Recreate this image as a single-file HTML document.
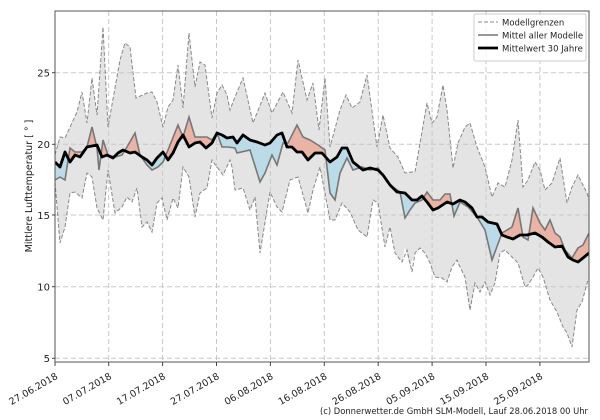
<!DOCTYPE html>
<html><head><meta charset="utf-8"><style>
html,body{margin:0;padding:0;background:#fff;width:600px;height:420px;overflow:hidden}
svg text{font-family:"DejaVu Sans","Liberation Sans",sans-serif;fill:#222}
</style></head><body>
<svg width="600" height="420" viewBox="0 0 600 420" xmlns="http://www.w3.org/2000/svg">
<defs>
<clipPath id="plot"><rect x="55" y="11" width="534" height="351"/></clipPath>
<clipPath id="aboveClim"><polygon points="55,0 55,162 60,167 65,152 70,162 75,155 80,157 87,147 97,145 102,157 107,155 113,158 118,153 123,150 130,153 135,152 142,157 147,160 152,165 157,158 163,152 168,160 173,153 178,142 183,135 189,147 195,143 200,142 206,148 212,143 217,133 222,135 227,138 233,137 237,143 243,135 250,140 257,142 265,145 270,143 277,135 282,133 287,147 292,147 297,152 302,152 308,160 315,153 322,153 330,162 337,157 342,148 347,148 353,162 363,170 370,168 378,170 383,175 390,185 397,192 405,193 412,200 417,200 422,196 427,202 433,210 438,208 447,202 453,204 460,200 465,202 472,208 477,217 482,217 488,222 497,224 502,235 507,237 513,239 520,235 527,235 535,233 542,237 548,242 555,247 562,246 568,257 573,260 578,262 583,258 589,253 589,0"/></clipPath>
<clipPath id="aboveModel"><polygon points="55,0 55,180 60,177 65,180 70,148 75,152 82,152 87,147 92,127 97,148 99,170 103,140 108,155 115,157 122,155 127,147 135,133 140,155 147,165 152,170 158,167 163,162 168,150 178,125 183,137 189,117 195,137 202,137 207,137 212,140 217,133 222,147 228,147 235,148 237,153 250,150 260,182 265,173 272,155 277,165 283,143 288,143 297,125 303,137 310,140 318,145 325,150 330,193 335,200 340,173 347,158 353,170 362,167 370,170 378,168 387,182 393,187 400,192 405,218 410,210 415,203 422,200 427,192 433,200 440,200 445,194 450,194 454,216 460,202 468,207 477,217 485,230 492,260 502,233 512,227 518,208 523,237 528,240 533,208 540,223 545,230 550,220 555,233 560,237 565,250 572,258 578,248 583,245 589,233 589,0"/></clipPath>
</defs>
<g clip-path="url(#plot)">
<polygon fill="#e4e4e4" points="55,155 60,137 65,138 77,112 82,92 87,123 92,78 97,115 103,27 108,127 120,60 125,43 130,47 136,98 147,93 152,92 157,102 163,127 168,107 173,100 178,65 183,108 189,33 195,87 200,62 205,65 212,118 217,93 222,85 227,95 230,110 235,97 243,78 253,123 265,93 272,113 283,92 292,113 298,60 307,100 313,83 319,130 325,78 330,147 340,110 346,95 352,108 360,102 367,75 377,147 383,115 390,148 398,157 405,173 412,172 415,172 420,143 427,103 432,123 437,117 443,85 447,110 453,168 458,143 465,127 470,123 477,147 485,167 492,197 498,183 505,187 512,160 518,120 523,187 528,180 535,162 540,170 545,190 552,183 560,158 567,203 572,187 578,175 587,193 589,200 589,280 588,280 582,302 577,310 572,347 567,333 563,327 557,312 550,300 543,277 538,268 533,277 528,285 525,287 518,263 512,257 505,250 500,253 495,283 490,295 485,282 480,292 475,283 470,310 465,277 460,267 457,260 452,267 447,282 442,278 435,277 430,263 425,253 420,248 415,253 410,267 405,247 402,262 395,253 390,227 385,247 378,203 373,200 367,237 358,230 350,212 342,203 335,220 330,220 320,167 313,190 308,213 298,177 290,180 282,212 277,207 270,192 260,253 255,197 250,210 243,188 235,190 232,167 230,160 223,175 217,167 212,160 207,188 200,193 195,217 189,177 183,167 178,208 173,198 167,220 162,198 157,203 152,232 147,222 142,227 137,188 132,202 127,197 122,207 115,213 108,170 103,220 97,208 92,177 87,173 82,198 75,192 70,193 65,227 60,243 55,182"/>
<g stroke="#c8c8c8" stroke-width="1" stroke-dasharray="5,3">
<line x1="55" y1="358.3" x2="589" y2="358.3"/><line x1="55" y1="286.7" x2="589" y2="286.7"/><line x1="55" y1="215" x2="589" y2="215"/><line x1="55" y1="144.3" x2="589" y2="144.3"/><line x1="55" y1="72.7" x2="589" y2="72.7"/>
<line x1="108.7" y1="11" x2="108.7" y2="362"/><line x1="162.6" y1="11" x2="162.6" y2="362"/><line x1="216.5" y1="11" x2="216.5" y2="362"/><line x1="270.4" y1="11" x2="270.4" y2="362"/><line x1="324.3" y1="11" x2="324.3" y2="362"/><line x1="378.2" y1="11" x2="378.2" y2="362"/><line x1="432.1" y1="11" x2="432.1" y2="362"/><line x1="486" y1="11" x2="486" y2="362"/><line x1="539.9" y1="11" x2="539.9" y2="362"/>
</g>
<g fill="none" stroke="#888" stroke-width="1" stroke-dasharray="4,2">
<polyline points="55,155 60,137 65,138 77,112 82,92 87,123 92,78 97,115 103,27 108,127 120,60 125,43 130,47 136,98 147,93 152,92 157,102 163,127 168,107 173,100 178,65 183,108 189,33 195,87 200,62 205,65 212,118 217,93 222,85 227,95 230,110 235,97 243,78 253,123 265,93 272,113 283,92 292,113 298,60 307,100 313,83 319,130 325,78 330,147 340,110 346,95 352,108 360,102 367,75 377,147 383,115 390,148 398,157 405,173 412,172 415,172 420,143 427,103 432,123 437,117 443,85 447,110 453,168 458,143 465,127 470,123 477,147 485,167 492,197 498,183 505,187 512,160 518,120 523,187 528,180 535,162 540,170 545,190 552,183 560,158 567,203 572,187 578,175 587,193 589,200"/>
<polyline points="55,182 60,243 65,227 70,193 75,192 82,198 87,173 92,177 97,208 103,220 108,170 115,213 122,207 127,197 132,202 137,188 142,227 147,222 152,232 157,203 162,198 167,220 173,198 178,208 183,167 189,177 195,217 200,193 207,188 212,160 217,167 223,175 230,160 232,167 235,190 243,188 250,210 255,197 260,253 270,192 277,207 282,212 290,180 298,177 308,213 313,190 320,167 330,220 335,220 342,203 350,212 358,230 367,237 373,200 378,203 385,247 390,227 395,253 402,262 407,250 412,272 415,253 420,248 425,253 430,263 435,277 442,278 447,282 452,267 457,260 460,267 465,277 470,310 475,283 480,292 485,282 490,295 495,283 500,253 505,250 512,257 518,263 525,287 528,285 533,277 538,268 543,277 550,300 557,312 563,327 567,333 572,347 577,310 582,302 588,280"/>
</g>
<polygon fill="#e9b3a6" clip-path="url(#aboveClim)" points="55,180 60,177 65,180 70,148 75,152 82,152 87,147 92,127 97,148 99,170 103,140 108,155 115,157 122,155 127,147 135,133 140,155 147,165 152,170 158,167 163,162 168,150 178,125 183,137 189,117 195,137 202,137 207,137 212,140 217,133 222,147 228,147 235,148 237,153 250,150 260,182 265,173 272,155 277,165 283,143 288,143 297,125 303,137 310,140 318,145 325,150 330,193 335,200 340,173 347,158 353,170 362,167 370,170 378,168 387,182 393,187 400,192 405,218 410,210 415,203 422,200 427,192 433,200 440,200 445,194 450,194 454,216 460,202 468,207 477,217 485,230 492,260 502,233 512,227 518,208 523,237 528,240 533,208 540,223 545,230 550,220 555,233 560,237 565,250 572,258 578,248 583,245 589,233 589,420 55,420"/>
<polygon fill="#bcdbe8" clip-path="url(#aboveModel)" points="55,162 60,167 65,152 70,162 75,155 80,157 87,147 97,145 102,157 107,155 113,158 118,153 123,150 130,153 135,152 142,157 147,160 152,165 157,158 163,152 168,160 173,153 178,142 183,135 189,147 195,143 200,142 206,148 212,143 217,133 222,135 227,138 233,137 237,143 243,135 250,140 257,142 265,145 270,143 277,135 282,133 287,147 292,147 297,152 302,152 308,160 315,153 322,153 330,162 337,157 342,148 347,148 353,162 363,170 370,168 378,170 383,175 390,185 397,192 405,193 412,200 417,200 422,196 427,202 433,210 438,208 447,202 453,204 460,200 465,202 472,208 477,217 482,217 488,222 497,224 502,235 507,237 513,239 520,235 527,235 535,233 542,237 548,242 555,247 562,246 568,257 573,260 578,262 583,258 589,253 589,420 55,420"/>
<polyline fill="none" stroke="#777" stroke-width="1.6" points="55,180 60,177 65,180 70,148 75,152 82,152 87,147 92,127 97,148 99,170 103,140 108,155 115,157 122,155 127,147 135,133 140,155 147,165 152,170 158,167 163,162 168,150 178,125 183,137 189,117 195,137 202,137 207,137 212,140 217,133 222,147 228,147 235,148 237,153 250,150 260,182 265,173 272,155 277,165 283,143 288,143 297,125 303,137 310,140 318,145 325,150 330,193 335,200 340,173 347,158 353,170 362,167 370,170 378,168 387,182 393,187 400,192 405,218 410,210 415,203 422,200 427,192 433,200 440,200 445,194 450,194 454,216 460,202 468,207 477,217 485,230 492,260 502,233 512,227 518,208 523,237 528,240 533,208 540,223 545,230 550,220 555,233 560,237 565,250 572,258 578,248 583,245 589,233"/>
<polyline fill="none" stroke="#000" stroke-width="2.8" stroke-linejoin="round" points="55,162 60,167 65,152 70,162 75,155 80,157 87,147 97,145 102,157 107,155 113,158 118,153 123,150 130,153 135,152 142,157 147,160 152,165 157,158 163,152 168,160 173,153 178,142 183,135 189,147 195,143 200,142 206,148 212,143 217,133 222,135 227,138 233,137 237,143 243,135 250,140 257,142 265,145 270,143 277,135 282,133 287,147 292,147 297,152 302,152 308,160 315,153 322,153 330,162 337,157 342,148 347,148 353,162 363,170 370,168 378,170 383,175 390,185 397,192 405,193 412,200 417,200 422,196 427,202 433,210 438,208 447,202 453,204 460,200 465,202 472,208 477,217 482,217 488,222 497,224 502,235 507,237 513,239 520,235 527,235 535,233 542,237 548,242 555,247 562,246 568,257 573,260 578,262 583,258 589,253"/>
</g>
<rect x="55" y="11" width="534" height="351" fill="none" stroke="#555" stroke-width="1"/>
<g stroke="#444"><line x1="52" y1="358.3" x2="55" y2="358.3"/><line x1="52" y1="286.7" x2="55" y2="286.7"/><line x1="52" y1="215" x2="55" y2="215"/><line x1="52" y1="144.3" x2="55" y2="144.3"/><line x1="52" y1="72.7" x2="55" y2="72.7"/>
<line x1="55" y1="362" x2="55" y2="366"/><line x1="108.7" y1="362" x2="108.7" y2="366"/><line x1="162.6" y1="362" x2="162.6" y2="366"/><line x1="216.5" y1="362" x2="216.5" y2="366"/><line x1="270.4" y1="362" x2="270.4" y2="366"/><line x1="324.3" y1="362" x2="324.3" y2="366"/><line x1="378.2" y1="362" x2="378.2" y2="366"/><line x1="432.1" y1="362" x2="432.1" y2="366"/><line x1="486" y1="362" x2="486" y2="366"/><line x1="539.9" y1="362" x2="539.9" y2="366"/></g>
<g font-size="10" text-anchor="end">
<text x="50" y="362">5</text><text x="50" y="290.5">10</text><text x="50" y="218.8">15</text><text x="50" y="148">20</text><text x="50" y="76.5">25</text>
</g>
<g font-size="9.5" text-anchor="end">
<text transform="translate(55,372) rotate(-30)" dy="7">27.06.2018</text>
<text transform="translate(108.7,372) rotate(-30)" dy="7">07.07.2018</text>
<text transform="translate(162.6,372) rotate(-30)" dy="7">17.07.2018</text>
<text transform="translate(216.5,372) rotate(-30)" dy="7">27.07.2018</text>
<text transform="translate(270.4,372) rotate(-30)" dy="7">06.08.2018</text>
<text transform="translate(324.3,372) rotate(-30)" dy="7">16.08.2018</text>
<text transform="translate(378.2,372) rotate(-30)" dy="7">26.08.2018</text>
<text transform="translate(432.1,372) rotate(-30)" dy="7">05.09.2018</text>
<text transform="translate(486,372) rotate(-30)" dy="7">15.09.2018</text>
<text transform="translate(539.9,372) rotate(-30)" dy="7">25.09.2018</text>
</g>
<text transform="translate(32,186) rotate(-90)" font-size="9.5" text-anchor="middle">Mittlere Lufttemperatur [ ° ]</text>
<text x="320" y="414" font-size="9" textLength="268" lengthAdjust="spacingAndGlyphs">(c) Donnerwetter.de GmbH SLM-Modell, Lauf 28.06.2018 00 Uhr</text>
<rect x="474" y="14" width="112" height="47" rx="2" fill="#fff" fill-opacity="0.85" stroke="#ccc"/>
<line x1="478" y1="22" x2="498" y2="22" stroke="#888" stroke-dasharray="4,2"/>
<line x1="478" y1="35" x2="498" y2="35" stroke="#777" stroke-width="1.6"/>
<line x1="478" y1="48" x2="498" y2="48" stroke="#000" stroke-width="2.8"/>
<g font-size="8.5"><text x="502" y="25.5">Modellgrenzen</text><text x="502" y="38.5">Mittel aller Modelle</text><text x="502" y="51.5">Mittelwert 30 Jahre</text></g>
</svg>
</body></html>
